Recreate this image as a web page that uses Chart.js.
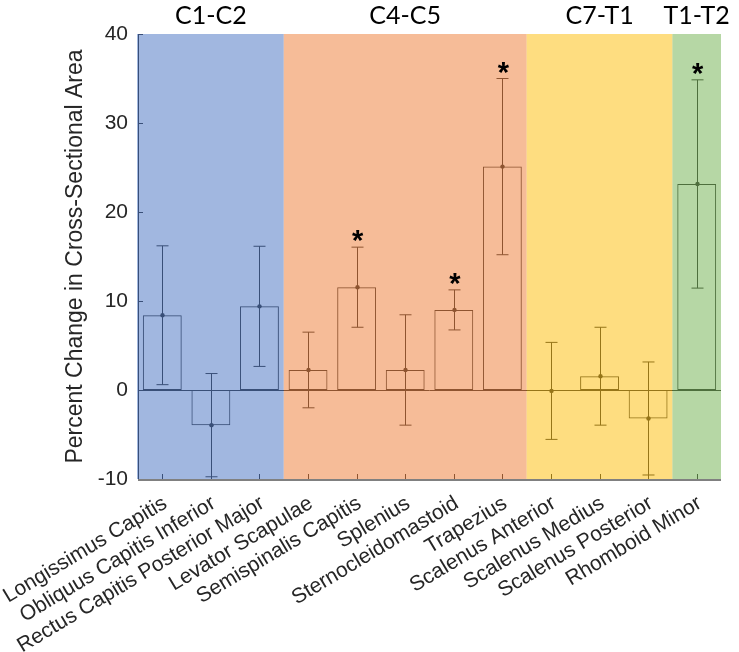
<!DOCTYPE html>
<html>
<head>
<meta charset="utf-8">
<script src="https://cdn.jsdelivr.net/npm/chart.js@4.4.0/dist/chart.umd.min.js"></script>
<style>
  html, body { margin: 0; padding: 0; background: #fff; }
  #wrap { width: 739px; height: 652px; }
</style>
</head>
<body>
<div id="wrap"><canvas id="cscChart" width="739" height="652"></canvas></div>
<script>
const muscles = ['Longissimus Capitis', 'Obliquus Capitis Inferior', 'Rectus Capitis Posterior Major',
  'Levator Scapulae', 'Semispinalis Capitis', 'Splenius', 'Sternocleidomastoid', 'Trapezius',
  'Scalenus Anterior', 'Scalenus Medius', 'Scalenus Posterior', 'Rhomboid Minor'];
const meanChange = [8.4, -3.95, 9.4, 2.25, 11.55, 2.25, 9.0, 25.1, -0.1, 1.55, -3.2, 23.15];
const errorSize = [7.8, 5.8, 6.75, 4.25, 4.5, 6.2, 2.25, 9.9, 5.45, 5.5, 6.35, 11.7];
const significant = [false, false, false, false, true, false, true, true, false, false, false, true];

const levels = ['C1-C2', 'C4-C5', 'C7-T1', 'T1-T2'];
const levelFirst = [0, 3, 8, 11];
const levelCount = [3, 5, 3, 1];
const levelColors = ['rgba(84,124,199,0.55)', 'rgba(239,133,68,0.55)', 'rgba(253,193,24,0.55)', 'rgba(122,182,91,0.55)'];

const yTicks = [-10, 0, 10, 20, 30, 40];

const textColor = '#262626';
const lineColor = '#1a1a1a';

// error bars, ticks and zero line go under the coloured level patches
const levelPlugin = {
  id: 'levels',
  afterDatasetsDraw(chart) {
    const ctx = chart.ctx;
    const area = chart.chartArea;
    const x = chart.scales.x;
    const y = chart.scales.y;
    const step = (area.right - area.left) / muscles.length;
    ctx.save();

    ctx.strokeStyle = lineColor;
    ctx.lineWidth = 1;
    // inward tick marks
    ctx.beginPath();
    muscles.forEach((m, i) => {
      const px = Math.round(x.getPixelForValue(i)) + 0.5;
      ctx.moveTo(px, area.bottom);
      ctx.lineTo(px, area.bottom - 5);
    });
    yTicks.forEach(v => {
      const py = Math.round(y.getPixelForValue(v)) + 0.5;
      ctx.moveTo(area.left, py);
      ctx.lineTo(area.left + 5, py);
    });
    // zero line
    const y0 = Math.round(y.getPixelForValue(0)) + 0.5;
    ctx.moveTo(area.left, y0);
    ctx.lineTo(area.right, y0);
    ctx.stroke();

    // error bars with mean dots
    meanChange.forEach((v, i) => {
      const px = Math.round(x.getPixelForValue(i)) + 0.5;
      const top = y.getPixelForValue(v + errorSize[i]);
      const bot = y.getPixelForValue(v - errorSize[i]);
      ctx.beginPath();
      ctx.moveTo(px, top);
      ctx.lineTo(px, bot);
      ctx.moveTo(px - 6, top);
      ctx.lineTo(px + 6, top);
      ctx.moveTo(px - 6, bot);
      ctx.lineTo(px + 6, bot);
      ctx.stroke();
      ctx.beginPath();
      ctx.arc(px, y.getPixelForValue(v), 2.2, 0, Math.PI * 2);
      ctx.fillStyle = lineColor;
      ctx.fill();
    });

    // level patches
    levels.forEach((name, k) => {
      const x1 = x.getPixelForValue(levelFirst[k]) - step / 2;
      const x2 = x.getPixelForValue(levelFirst[k] + levelCount[k] - 1) + step / 2;
      ctx.fillStyle = levelColors[k];
      ctx.fillRect(k === 0 ? x1 - 1 : x1, area.top, x2 - x1 + (k === 0 ? 1 : 0), area.bottom - area.top);
      ctx.fillStyle = '#000';
      ctx.font = '25px Lato';
      ctx.textAlign = 'center';
      ctx.textBaseline = 'alphabetic';
      ctx.fillText(name, (x1 + x2) / 2, 24);
    });

    // bottom axis line
    ctx.strokeStyle = '#808080';
    ctx.lineWidth = 2;
    ctx.beginPath();
    ctx.moveTo(area.left, area.bottom + 1);
    ctx.lineTo(area.right, area.bottom + 1);
    ctx.stroke();

    // significance marks
    ctx.fillStyle = '#000';
    ctx.font = 'bold 29px "Liberation Sans"';
    ctx.textAlign = 'center';
    ctx.textBaseline = 'alphabetic';
    significant.forEach((s, i) => {
      if (!s) return;
      const px = x.getPixelForValue(i);
      const top = y.getPixelForValue(meanChange[i] + errorSize[i]);
      ctx.fillText('*', px + 1, top + 3);
    });
    ctx.restore();
  }
};

new Chart(document.getElementById('cscChart'), {
  type: 'bar',
  data: {
    labels: muscles,
    datasets: [{
      data: meanChange,
      backgroundColor: 'rgba(0,0,0,0)',
      borderColor: lineColor,
      borderWidth: 1,
      borderSkipped: false,
      barPercentage: 0.8,
      categoryPercentage: 1.0
    }]
  },
  options: {
    responsive: false,
    animation: false,
    layout: { padding: { top: 34, right: 18, left: 0, bottom: 0 } },
    plugins: {
      legend: { display: false },
      tooltip: { enabled: false }
    },
    scales: {
      x: {
        grid: { display: false, drawTicks: false },
        border: { display: false },
        afterFit(scale) {
          scale.height = 173;
          scale.paddingLeft = 0;
          scale.paddingRight = 0;
        },
        ticks: {
          autoSkip: false,
          minRotation: 31,
          maxRotation: 31,
          padding: 12,
          labelOffset: 3,
          color: textColor,
          font: { family: 'Liberation Sans', size: 21 }
        }
      },
      y: {
        min: -10,
        max: 40,
        afterFit(scale) { scale.width = 138; },
        afterBuildTicks(scale) { scale.ticks = yTicks.map(v => ({ value: v })); },
        grid: { display: false, drawTicks: false },
        border: { display: true, color: lineColor, width: 1 },
        ticks: {
          padding: 10,
          color: textColor,
          font: { family: 'Liberation Sans', size: 21 }
        },
        title: {
          display: true,
          text: 'Percent Change in Cross-Sectional Area',
          color: textColor,
          padding: { top: 62, bottom: 0 },
          font: { family: 'Liberation Sans', size: 23 }
        }
      }
    }
  },
  plugins: [levelPlugin]
});
</script>
</body>
</html>
